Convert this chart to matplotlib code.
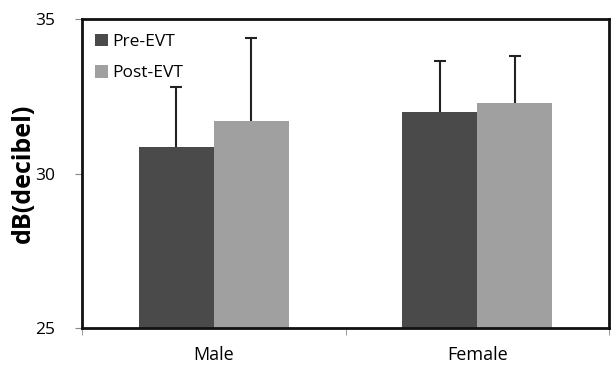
import matplotlib
matplotlib.use("Agg")
import matplotlib.pyplot as plt
import numpy as np

categories = ["Male", "Female"]
series = ["Pre-EVT", "Post-EVT"]
pre_values = [30.86, 31.99]
post_values = [31.70, 32.28]
pre_err = [1.94, 1.65]
post_err = [2.69, 1.52]
colors = ["#4a4a4a", "#a0a0a0"]

plt.rcParams['font.family'] = ['Open Sans', 'DejaVu Sans']

fig = plt.figure(figsize=(6.11, 3.65), dpi=100)
ax = fig.add_axes([0.134, 0.101, 0.863, 0.847])

x = np.arange(len(categories))
w = 0.285
for i, (vals, errs) in enumerate([(pre_values, pre_err), (post_values, post_err)]):
    pos = x + (i - 0.5) * w
    ax.bar(pos, vals, width=w, color=colors[i], label=series[i], zorder=2)
    _, caps, _ = ax.errorbar(pos, vals, yerr=[np.zeros(len(errs)), errs], fmt='none',
                             ecolor='#222222', elinewidth=1.5, capsize=4,
                             capthick=1.5, zorder=3)
    caps[0].set_visible(False)

ax.set_ylim(25, 35)
ax.set_xlim(-0.5, 1.5)
ax.set_yticks([25, 30, 35])
ax.set_xticks(x)
ax.set_xticklabels(categories, fontsize=13)
ax.set_xticks([-0.5, 0.5, 1.5], minor=True)
ax.tick_params(axis='x', which='major', length=0, pad=13)
ax.tick_params(axis='x', which='minor', length=5, color='#888888')
ax.tick_params(axis='y', labelsize=12.5, length=5, color='#888888', pad=14)
for s in ax.spines.values():
    s.set_linewidth(2)
    s.set_color('#111111')
ax.set_ylabel("dB(decibel)", fontsize=18, fontweight='bold', labelpad=0)

ax.legend(loc='upper left', frameon=False, fontsize=12.5, handlelength=0.75,
          handleheight=0.75, handletextpad=0.25, labelspacing=0.85,
          borderaxespad=0.0, bbox_to_anchor=(0.012, 0.975))

fig.savefig("out.png", dpi=100)
